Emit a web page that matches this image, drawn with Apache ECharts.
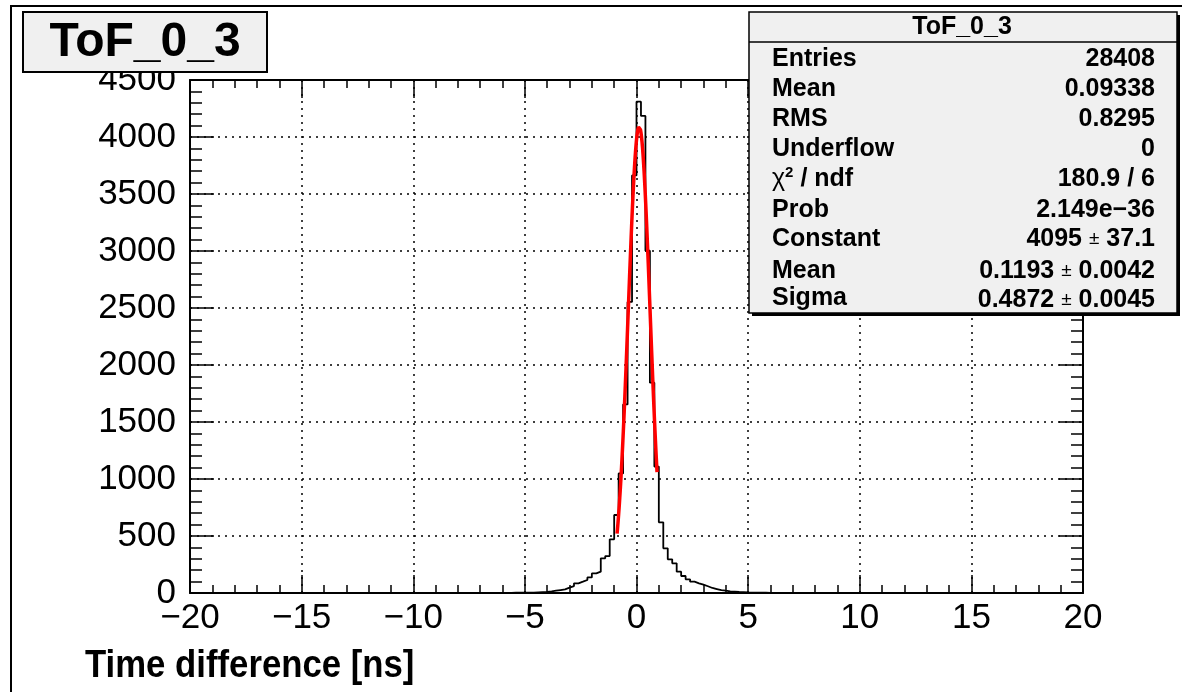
<!DOCTYPE html>
<html><head><meta charset="utf-8">
<script src="https://cdn.jsdelivr.net/npm/echarts@6/dist/echarts.min.js"></script>
<style>html,body{margin:0;padding:0;background:#fff}#c{width:1182px;height:692px}</style>
</head><body><div id="c"></div>
<script>
// ---- data ----
const histTitle = 'ToF_0_3';
const xAxisTitle = 'Time difference [ns]';
const xMin = -20, xMax = 20, binWidth = 0.2;      // 200 bins
const yMin = 0, yMax = 4500;
// bin contents, bin i covers [xMin + i*binWidth, xMin + (i+1)*binWidth]
const counts = [
  0,0,0,0,0,0,0,0,0,0,
  0,0,0,0,0,0,0,0,0,0,
  0,0,0,0,0,0,0,0,0,0,
  0,0,0,0,0,0,0,0,0,0,
  0,0,0,0,0,0,0,0,0,0,
  0,0,0,0,0,0,0,0,0,0,
  0,0,0,0,0,0,0,0,0,0,
  1,1,2,2,2,3,4,6,8,10,
  14,20,26,32,47,61,85,99,114,137,
  172,187,304,324,471,684,1049,1654,2553,3663,
  4310,4185,3002,1845,1109,620,392,295,260,187,
  149,120,99,85,73,59,44,35,26,20,
  15,12,9,7,5,4,3,2,2,1,
  0,0,0,0,0,0,0,0,0,0,
  0,0,0,0,0,0,0,0,0,0,
  0,0,0,0,0,0,0,0,0,0,
  0,0,0,0,0,0,0,0,0,0,
  0,0,0,0,0,0,0,0,0,0,
  0,0,0,0,0,0,0,0,0,0,
  0,0,0,0,0,0,0,0,0,0
];
// Gaussian fit parameters shown in the stats box, and the drawn fit range
const fitConstant = 4095, fitMean = 0.1193, fitSigma = 0.4872;
const fitRange = [-0.87, 0.92];
// stats box rows
const statLabels = ['Entries', 'Mean', 'RMS', 'Underflow', '{chi|\u03c7}{sup|2}{lb| / ndf}', 'Prob', 'Constant', 'Mean', 'Sigma'];
const statValues = ['28408', '0.09338', '0.8295', '0', '180.9 / 6', '2.149e\u221236',
  '4095 {pm|\u00b1} 37.1', '0.1193 {pm|\u00b1} 0.0042', '0.4872 {pm|\u00b1} 0.0045'];

// ---- build series data ----
const histData = counts.map((c, i) => [xMin + i * binWidth, c]);
histData.push([xMax, counts[counts.length - 1]]);
const fitData = [];
for (let k = 0; ; k++) {
  const x = fitRange[0] + k * 0.01;
  if (x > fitRange[1] + 1e-9) break;
  const t = (x - fitMean) / fitSigma;
  fitData.push([x, fitConstant * Math.exp(-0.5 * t * t)]);
}

const FONT = '"Liberation Sans", Arial, Helvetica, sans-serif';
const minus = v => String(v).replace('-', '\u2212');
const tickStyle = { color: '#000', width: 1.5 };
function xAx(pos, show) {
  return {
    type: 'value', position: pos, min: xMin, max: xMax, interval: 5,
    axisLine: { onZero: false, lineStyle: { color: '#000', width: 2 } },
    axisTick: { inside: true, length: 18, lineStyle: tickStyle },
    minorTick: { show: true, splitNumber: 5, length: 8, lineStyle: tickStyle },
    splitLine: { show: show, lineStyle: { color: '#000', type: [2, 5], width: 1.5 } },
    axisLabel: { show: show, fontSize: 35, color: '#000', margin: 8, fontFamily: FONT, formatter: minus }
  };
}
function yAx(pos, show) {
  return {
    type: 'value', position: pos, min: yMin, max: yMax, interval: 500,
    axisLine: { onZero: false, lineStyle: { color: '#000', width: 2 } },
    axisTick: { inside: true, length: 24, lineStyle: tickStyle },
    minorTick: { show: true, splitNumber: 5, length: 12, lineStyle: tickStyle },
    splitLine: { show: show, lineStyle: { color: '#000', type: [2, 5], width: 1.5 } },
    axisLabel: { show: show, fontSize: 35, color: '#000', margin: 14, fontFamily: FONT, formatter: v => String(v) }
  };
}

// stats box graphics
const SB = { x: 749, y: 12, w: 428, h: 301 };
const rowY = [59, 89, 119, 149, 179, 210, 239, 271, 298];
const statFont = { fontSize: 25, fontWeight: 'bold', fontFamily: FONT, fill: '#000' };
const rich = {
  chi: { fontSize: 25, fontWeight: 'normal', fontFamily: FONT },
  sup: { fontSize: 15, fontWeight: 'bold', fontFamily: FONT, padding: [0, 0, 12, 0] },
  lb: { fontSize: 25, fontWeight: 'bold', fontFamily: FONT },
  pm: { fontSize: 19, fontWeight: 'normal', fontFamily: FONT }
};
const statEls = [];
statLabels.forEach((t, i) => {
  statEls.push({ type: 'text', x: 772, y: rowY[i], z: 102,
    style: Object.assign({ text: t, align: 'left', verticalAlign: 'middle', rich: rich }, statFont) });
});
statValues.forEach((t, i) => {
  statEls.push({ type: 'text', x: 1155, y: rowY[i] + (i === 8 ? 2 : 0), z: 102,
    style: Object.assign({ text: t, align: 'right', verticalAlign: 'middle', rich: rich }, statFont) });
});

const chart = echarts.init(document.getElementById('c'), null, { renderer: 'canvas' });
chart.setOption({
  animation: false,
  backgroundColor: '#fff',
  textStyle: { fontFamily: FONT },
  grid: { left: 190, right: 99, top: 80, bottom: 99, containLabel: false },
  xAxis: [xAx('bottom', true), xAx('top', false)],
  yAxis: [yAx('left', true), yAx('right', false)],
  series: [
    { name: histTitle, type: 'line', step: 'end', data: histData, showSymbol: false,
      lineStyle: { color: '#000', width: 1.8 }, z: 3, silent: true },
    { name: 'gaus', type: 'line', data: fitData, showSymbol: false, smooth: false,
      lineStyle: { color: '#ff0000', width: 3.5 }, z: 4, silent: true }
  ],
  graphic: [
    // canvas border
    { type: 'line', z: 90, shape: { x1: 10, y1: 6, x2: 1182, y2: 6 }, style: { stroke: '#000', lineWidth: 2 } },
    { type: 'line', z: 90, shape: { x1: 11, y1: 6, x2: 11, y2: 692 }, style: { stroke: '#000', lineWidth: 2 } },
    // title box
    { type: 'rect', z: 100, shape: { x: 23, y: 12, width: 244, height: 60 },
      style: { fill: '#f0f0f0', stroke: '#000', lineWidth: 2 } },
    { type: 'text', z: 101, x: 145, y: 43,
      style: { text: histTitle, fontSize: 48, fontWeight: 'bold', fontFamily: FONT, fill: '#000', align: 'center', verticalAlign: 'middle' } },
    // x axis title
    { type: 'text', z: 101, x: 85, y: 667, scaleX: 0.914, originX: 0, originY: 0,
      style: { text: xAxisTitle, fontSize: 38, fontWeight: 'bold', fontFamily: FONT, fill: '#000', align: 'left', verticalAlign: 'middle' } },
    // stats box shadow + box
    { type: 'rect', z: 100, shape: { x: SB.x + 3, y: SB.y + 3, width: SB.w, height: SB.h }, style: { fill: '#000' } },
    { type: 'rect', z: 101, shape: { x: SB.x, y: SB.y, width: SB.w, height: SB.h },
      style: { fill: '#f0f0f0', stroke: '#000', lineWidth: 1.5 } },
    { type: 'line', z: 102, shape: { x1: SB.x, y1: 42, x2: SB.x + SB.w, y2: 42 }, style: { stroke: '#000', lineWidth: 1.5 } },
    { type: 'text', z: 102, x: 962, y: 27,
      style: Object.assign({ text: histTitle, align: 'center', verticalAlign: 'middle' }, statFont) }
  ].concat(statEls)
});
</script></body></html>
